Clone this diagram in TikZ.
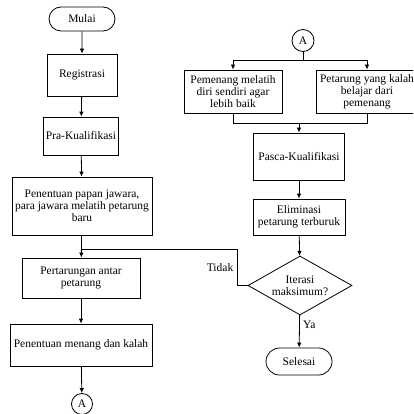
\documentclass[tikz,border=0pt]{standalone}
\usepackage{fontspec}
\setmainfont{Liberation Serif}
\usetikzlibrary{arrows.meta,shapes.geometric,shapes.misc}

\begin{document}
\begin{tikzpicture}[
    x=1pt, y=-1pt,
    font=\fontsize{11.5}{12.2}\selectfont,
    line width=0.8pt,
    proses/.style={draw, rectangle, align=center, inner sep=1pt},
    terminal/.style={draw, rounded rectangle, align=center, inner sep=1pt,
      minimum width=68pt},
    keputusan/.style={draw, diamond, align=center, inner sep=0pt,
      aspect=1.76, minimum width=104pt, minimum height=59pt},
    konektor/.style={draw, circle, inner sep=0pt, minimum size=22pt},
    panah/.style={-{Latex[length=5pt,width=4.5pt]}},
    garis/.style={-}
  ]
    \useasboundingbox (0,0) rectangle (413,414);
    \clip (0,0) rectangle (413,414);

    \node[terminal, minimum height=24pt] (mulai) at (82,19) {Mulai};
    \node[proses, minimum width=70pt, minimum height=42pt] (reg) at (82,75) {Registrasi};
    \node[proses, minimum width=75pt, minimum height=38pt] (pra) at (81,136) {Pra-Kualifikasi};
    \node[proses, minimum width=140pt, minimum height=58pt] (papan) at (82,206)
      {Penentuan papan jawara,\\para jawara melatih petarung\\baru};
    \node[proses, minimum width=118pt, minimum height=40pt] (tarung) at (81,278)
      {Pertarungan antar\\petarung};
    \node[proses, minimum width=142pt, minimum height=42pt] (hasil) at (81,345)
      {Penentuan menang dan kalah};
    \node[konektor, minimum size=21pt] (a1) at (82,404) {A};

    \node[konektor] (a2) at (303,40.5) {A};
    \node[proses, minimum width=98pt, minimum height=43pt] (menang) at (233,91.5)
      {Pemenang melatih\\diri sendiri agar\\lebih baik};
    \node[proses, minimum width=102pt, minimum height=43pt] (kalah) at (367,91.5)
      {Petarung yang kalah\\belajar dari\\pemenang};
    \node[proses, minimum width=91pt, minimum height=47pt] (pasca) at (299,156.5)
      {Pasca-Kualifikasi};
    \node[proses, minimum width=92pt, minimum height=36pt] (elim) at (299,217)
      {Eliminasi\\petarung terburuk};
    \node[keputusan] (iter) at (300,285.5) {Iterasi\\maksimum?};
    \node[terminal, minimum height=27pt] (selesai) at (299,361.5) {Selesai};

    \coordinate (cabang) at (303,60);
    \coordinate (temu) at (299,123);
    \coordinate (belok) at (237,285.5);
    \coordinate (gabung) at (82,249.5);

    \draw[panah] (mulai) -- (reg);
    \draw[panah] (reg) -- (pra);
    \draw[panah] (pra) -- (papan);
    \draw[panah] (papan) -- (tarung);
    \draw[panah] (tarung) -- (hasil);
    \draw[panah] (hasil) -- (a1);

    \draw[garis] (a2) -- (cabang);
    \draw[panah] (cabang) -| (menang);
    \draw[panah] (cabang) -| (kalah);
    \draw[garis] (menang) |- (temu);
    \draw[garis] (kalah) |- (temu);
    \draw[panah] (temu) -- (pasca);
    \draw[panah] (pasca) -- (elim);
    \draw[panah] (elim) -- (iter);
    \draw[panah] (iter) -- node[pos=0.3, right] {Ya} (selesai);
    \draw[garis] (iter.west) -- (belok) |- node[pos=0.25, left] {Tidak} (gabung);
  \end{tikzpicture}
\end{document}
